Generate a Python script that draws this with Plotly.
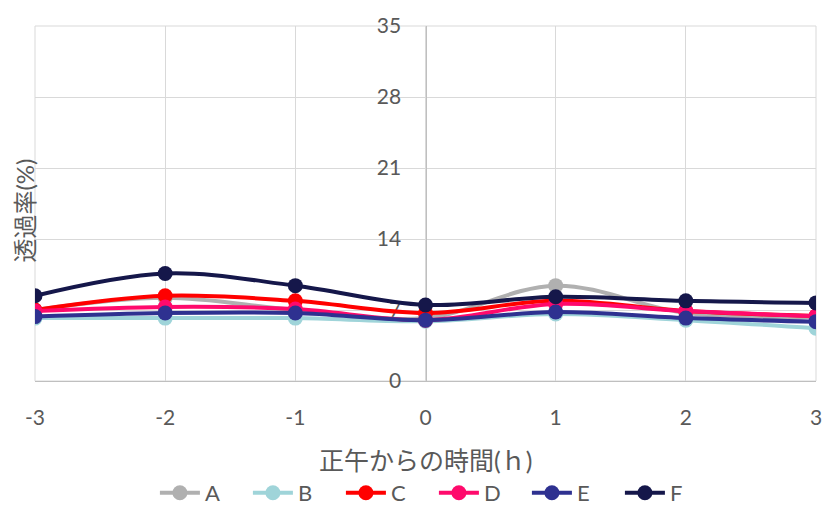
import plotly.graph_objects as go

hours = [-3, -2, -1, 0, 1, 2, 3]
series_names = ["A", "B", "C", "D", "E", "F"]
A = [7.0, 8.2, 7.0, 6.2, 9.4, 6.7, 6.3]
B = [6.2, 6.2, 6.2, 5.9, 6.6, 6.0, 5.2]
C = [7.0, 8.4, 7.9, 6.7, 7.9, 6.9, 6.4]
D = [6.9, 7.3, 7.1, 6.0, 7.6, 6.9, 6.4]
E = [6.35, 6.7, 6.7, 6.0, 6.8, 6.2, 5.85]
F = [8.4, 10.6, 9.4, 7.5, 8.3, 7.9, 7.7]
y_ticks = [0, 7, 14, 21, 28, 35]
x_title = "正午からの時間(ｈ)"
y_title = "透過率(%)"

colors = ["#B0B0B0", "#9FD4D9", "#FF0000", "#FF0A6C", "#2E3190", "#15174A"]
values = [A, B, C, D, E, F]

FONT = "Lato, 'Noto Sans CJK JP', sans-serif"
TXT = "#595959"

fig = go.Figure()
for name, vals, col in zip(series_names, values, colors):
    fig.add_trace(go.Scatter(
        x=hours, y=vals, name=name, mode="lines+markers",
        line=dict(color=col, width=4, shape="spline", smoothing=1),
        marker=dict(color=col, size=15),
    ))

fig.update_layout(
    width=824, height=505,
    margin=dict(l=35, r=8, t=26, b=124),
    paper_bgcolor="white", plot_bgcolor="white",
    font=dict(family=FONT, color=TXT, size=21),
    showlegend=True,
    legend=dict(
        orientation="h", xref="container", yref="container",
        x=0.188, xanchor="left", y=0.024, yanchor="middle",
        entrywidth=38, entrywidthmode="pixels",
        font=dict(size=22, color=TXT, family=FONT),
        itemwidth=40,
    ),
    shapes=[dict(type="rect", xref="paper", yref="paper", x0=0, x1=1, y0=0, y1=1,
                 line=dict(color="#D9D9D9", width=1), layer="below")],
    annotations=[
        dict(text=x_title, xref="paper", yref="paper", x=0.5, y=-0.2225,
             showarrow=False, font=dict(size=25, color=TXT, family=FONT),
             xanchor="center", yanchor="middle"),
        dict(text=y_title, xref="paper", yref="paper", x=-0.0128, y=0.48,
             showarrow=False, textangle=-90, font=dict(size=24, color=TXT, family=FONT),
             xanchor="center", yanchor="middle"),
    ],
)

fig.update_xaxes(
    range=[-3, 3], tickmode="array", tickvals=hours, ticktext=[str(h) for h in hours],
    showgrid=True, gridcolor="#D9D9D9", gridwidth=1, automargin=False,
    zeroline=False, showline=True, linecolor="#BFBFBF", linewidth=1.3,
    ticks="", ticklabelstandoff=18, tickfont=dict(size=21, color=TXT),
    layer="below traces",
)
fig.update_yaxes(
    range=[0, 35], tickmode="array", tickvals=y_ticks,
    showgrid=True, gridcolor="#D9D9D9", gridwidth=1, automargin=False,
    zeroline=False, showline=True, linecolor="#BFBFBF", linewidth=1.3,
    anchor="free", position=0.5, side="left",
    ticks="", ticklabelstandoff=20, tickfont=dict(size=21, color=TXT),
    layer="below traces",
)

fig.write_html("out.html")
